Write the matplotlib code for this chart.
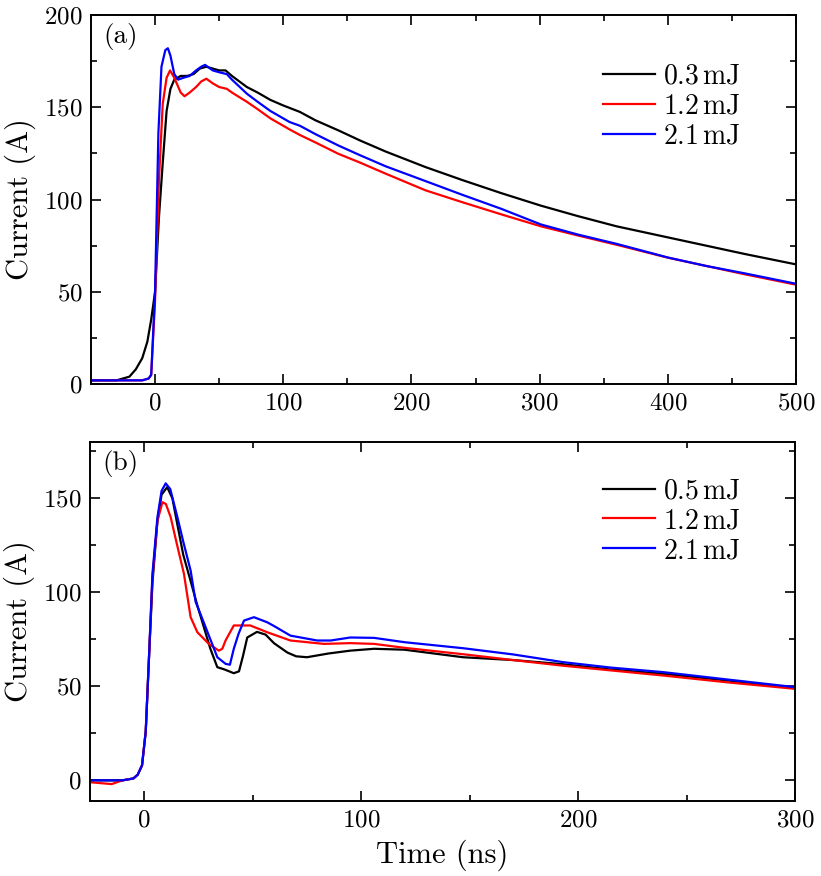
import matplotlib
matplotlib.use('Agg')
import matplotlib.pyplot as plt
from matplotlib.ticker import MultipleLocator

plt.rcParams['font.family'] = 'serif'
plt.rcParams['font.serif'] = ['cmr10']
plt.rcParams['mathtext.fontset'] = 'cm'
plt.rcParams['axes.formatter.use_mathtext'] = True

# panel (a)
ta_black = [-50, -30, -20, -15, -10, -6, -3, 0, 3, 6, 9, 12, 15, 20, 25, 30, 35, 40, 45, 50, 55, 60,
            71.6, 80, 90, 100, 113, 125, 143, 160, 180, 211, 240, 270, 301, 330, 360, 400, 430, 460, 499]
ia_black = [2, 2, 4, 8, 14, 23, 35, 50, 90, 120, 148, 160, 165, 167, 167, 168, 171, 172, 171, 170, 170, 167,
            161, 158, 154, 151, 147.5, 143, 137.5, 132, 126, 117.6, 110.5, 103.5, 96.7, 91, 85.5, 79.5, 75, 70.5, 65]

ta_red = [-50, -10, -5, -3, 0, 3, 6, 9, 11.7, 15, 20, 23, 27, 32, 36, 40, 45, 50, 56, 60,
          71.6, 80, 90, 105, 113, 125, 143, 160, 180, 211, 240, 270, 301, 330, 360, 400, 430, 460, 499]
ia_red = [2, 2, 3, 5, 45, 110, 152, 166, 170, 166, 158, 156, 158, 161, 164, 165.5, 163, 161, 160, 158,
          153, 149, 144, 138, 135, 131, 124.8, 120, 114, 105, 98.5, 92, 85.5, 80.5, 75.5, 68.5, 64, 59.5, 54]

ta_blue = [-50, -10, -5, -3, 0, 2.6, 5, 8, 10, 12, 15, 18, 22, 27, 32, 36, 39, 45, 50, 56, 60,
           71.6, 80, 90, 105, 113, 125, 143, 160, 180, 211, 240, 270, 301, 330, 360, 400, 430, 460, 499]
ia_blue = [2, 2, 3, 5, 50, 136, 172, 181, 182, 178, 168, 165, 166, 167, 170, 172, 173, 170, 169, 168, 165,
           157.4, 153, 148, 142, 140, 135.5, 129.3, 124, 118, 110, 102.5, 95, 86.5, 81, 76, 68.6, 64, 60, 54.5]

# panel (b)
tb_black = [-25, -15, -10, -5, -3, -1, 0.7, 2, 3.8, 6.1, 8, 10.6, 13, 15.3, 18, 21.4, 24.5, 27.5, 30.5, 33.7,
            37, 41.3, 43.7, 45.5, 47.5, 52, 56, 59.8, 66, 70, 75, 85, 95, 106, 120, 147, 170, 193, 215, 239, 270, 300]
ib_black = [0, 0, 0, 1, 3, 8, 26, 60, 105, 138, 152, 156, 150, 136, 120, 106, 93, 81.5, 70, 60.2,
            59, 57, 58, 66, 76, 79, 77.5, 73, 68, 66, 65.5, 67.5, 69, 70, 69.5, 65.5, 64, 61.8, 59, 56.7, 53, 49]

tb_red = [-25, -15, -10, -5, -3, -1, 0.7, 2, 3.8, 6.1, 8.4, 10, 12.2, 15, 18.3, 21.4, 24.5, 29.8, 34.4, 36,
          37.5, 41.3, 48.9, 56.7, 67.4, 82.8, 95, 106, 120, 147, 170, 193, 215, 239, 270, 300]
ib_red = [-1, -2, 0, 1, 3, 8, 26, 60, 108, 138, 148, 147, 140, 126, 110, 86.8, 78.8, 72.6, 69, 70,
          74.4, 82.4, 82.4, 78.8, 74.4, 72.6, 73, 72.6, 70.5, 67.1, 64, 61, 58.5, 55.8, 52, 48.7]

tb_blue = [-25, -15, -10, -5, -3, -1, 0.7, 2, 3.8, 6.1, 8, 9.9, 12, 15.3, 18, 21.4, 23.7, 28.3, 33.7, 37.5,
           39.5, 41.3, 43.5, 46, 50.6, 56.7, 60, 67.4, 79.7, 86, 95, 106, 120, 147, 170, 193, 215, 239, 270, 300]
ib_blue = [0, 0, 0, 1, 3, 8, 26, 60, 110, 140, 154, 158, 155, 140, 127, 111.6, 95, 81.5, 65.5, 62,
           61.5, 70, 78, 85, 86.8, 84.1, 82, 77, 74.4, 74.4, 76, 75.8, 73.5, 70.3, 67, 62.9, 60, 57.6, 53.5, 49.6]

labels_a = [r'$0.3\,\mathrm{mJ}$', r'$1.2\,\mathrm{mJ}$', r'$2.1\,\mathrm{mJ}$']
labels_b = [r'$0.5\,\mathrm{mJ}$', r'$1.2\,\mathrm{mJ}$', r'$2.1\,\mathrm{mJ}$']
colors = ['black', '#ff0000', '#0000ff']

fig = plt.figure(figsize=(8.21, 8.76), dpi=100)
ax1 = fig.add_axes([0.1108, 0.5616, 0.8587, 0.4212])
ax2 = fig.add_axes([0.1096, 0.0856, 0.8587, 0.4098])

for t, i, c, lab in zip([ta_black, ta_red, ta_blue], [ia_black, ia_red, ia_blue], colors, labels_a):
    ax1.plot(t, i, color=c, lw=1.6, label=lab)
for t, i, c, lab in zip([tb_black, tb_red, tb_blue], [ib_black, ib_red, ib_blue], colors, labels_b):
    ax2.plot(t, i, color=c, lw=1.6, label=lab)

ax1.set_xlim(-50, 500)
ax1.set_ylim(0, 200)
ax1.xaxis.set_major_locator(MultipleLocator(100))
ax1.xaxis.set_minor_locator(MultipleLocator(50))
ax1.yaxis.set_major_locator(MultipleLocator(50))
ax1.yaxis.set_minor_locator(MultipleLocator(25))

ax2.set_xlim(-25, 300)
ax2.set_ylim(-11, 180)
ax2.xaxis.set_major_locator(MultipleLocator(100))
ax2.xaxis.set_minor_locator(MultipleLocator(50))
ax2.yaxis.set_major_locator(MultipleLocator(50))
ax2.yaxis.set_minor_locator(MultipleLocator(25))

for ax in (ax1, ax2):
    ax.tick_params(which='both', direction='in', top=True, right=True, labelsize=18, width=1.2)
    ax.tick_params(which='major', length=7, pad=6)
    ax.tick_params(which='minor', length=4)
    for s in ax.spines.values():
        s.set_linewidth(1.4)
    ax.set_ylabel('Current (A)', fontsize=22, labelpad=6)

ax2.set_xlabel('Time (ns)', fontsize=22, labelpad=6)

ax1.text(0.017, 0.943, '(a)', transform=ax1.transAxes, fontsize=19.5, va='center')
ax2.text(0.017, 0.940, '(b)', transform=ax2.transAxes, fontsize=19.5, va='center')

ax1.legend(loc='upper left', bbox_to_anchor=(0.726, 0.870), frameon=False, fontsize=20,
           borderpad=0, borderaxespad=0, handlelength=1.87, handletextpad=0.29, labelspacing=0.13)
ax2.legend(loc='upper left', bbox_to_anchor=(0.728, 0.90), frameon=False, fontsize=20,
           borderpad=0, borderaxespad=0, handlelength=1.87, handletextpad=0.29, labelspacing=0.13)

fig.savefig('out.png', dpi=100)
